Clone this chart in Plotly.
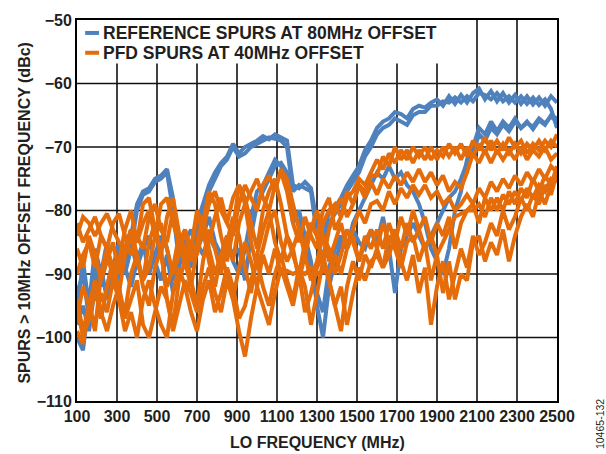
import plotly.graph_objects as go

# LO sweep points (MHz)
lo_mhz = list(range(100, 2501, 30))

# Reference spurs at 80 MHz offset (dBc), one list per measured part
ref_spurs_1 = [
    -96, -88, -95, -86, -90, -85, -91, -86, -88, -84,
    -79, -77, -76.5, -75, -74.5, -73.5, -78, -86, -84, -87,
    -82, -79, -76, -74, -72.5, -71.5, -69.5, -71, -70, -69.5,
    -69, -68.3, -68.8, -68, -68.5, -69, -76, -76.5, -75.5, -76.5,
    -82, -85, -80, -79.5, -78, -76, -74.5, -73, -70.5, -69,
    -67, -66, -65.5, -64.5, -64.8, -65.5, -64, -63.5, -63.8, -63,
    -62.5, -63.5, -62, -63.2, -61.8, -63, -61.5, -60.8, -62.5, -61.2,
    -62.8, -61.5, -63, -61.8, -63.2, -62, -63.3, -62.2, -63.5, -62,
    -63,
]
ref_spurs_2 = [
    -93, -90, -97, -88, -92, -87, -89, -85, -90, -86,
    -80, -77.5, -77, -75.5, -75, -74, -80, -88, -85, -89,
    -84, -80, -77, -75, -73, -72, -70, -71.5, -71, -70,
    -69.5, -69, -68.5, -68.7, -69, -70, -77, -76, -76.5, -77,
    -84, -88, -82, -80.5, -79, -77, -75.5, -74, -71.5, -70,
    -68, -67, -66.5, -65.5, -66, -66.5, -65, -64.5, -64.5, -63.5,
    -63.5, -62.8, -63, -62.2, -63, -62, -62.8, -61.5, -61.8, -62.5,
    -61.5, -62.8, -62, -63, -62, -63.2, -62.2, -63.4, -62.5, -64,
    -67,
]
ref_spurs_3 = [
    -100, -102, -94, -90, -97, -92, -88, -91, -87, -85,
    -89, -86, -84, -88, -91, -87, -93, -89, -85, -83,
    -86, -84, -81, -85, -87, -84, -88, -90, -86, -81,
    -77, -76, -74, -72, -73, -75, -82, -80, -84, -88,
    -95, -100, -92, -88, -85, -86, -82, -80, -78, -76,
    -74, -75, -73, -75, -74, -76, -77, -79, -82, -86,
    -88, -90, -86, -80, -77, -72, -70, -67, -68, -66,
    -67.5, -66, -67, -65.5, -67, -66, -67.2, -65.8, -66.5, -65,
    -65.5,
]
ref_spurs_4 = [
    -98, -95, -99, -92, -89, -94, -90, -86, -89, -92,
    -88, -85, -90, -87, -84, -86, -91, -88, -86, -89,
    -85, -87, -84, -86, -88, -85, -87, -86, -91, -84,
    -79, -77, -75, -73, -72.5, -74, -80, -82, -86, -90,
    -93, -96, -89, -86, -84, -86, -83, -85, -86, -83,
    -85, -81, -86, -93, -86, -84, -82, -84, -86, -84,
    -82, -80, -78, -77, -75, -72.5, -71, -68, -69, -67,
    -68, -66.5, -67.5, -66, -67, -66.2, -66.8, -65.5, -66.3, -65.2,
    -66,
]

# PFD spurs at 40 MHz offset (dBc)
pfd_spurs_1 = [
    -84, -81, -82, -84, -82, -80.5, -83, -85, -86, -83,
    -85, -82, -80, -84, -79, -78, -82, -85, -83, -86,
    -81, -83, -79, -77, -80, -82, -78, -76, -79, -77,
    -75, -78, -80, -76, -74, -77, -82, -85, -81, -84,
    -86, -82, -80, -79, -81, -78, -77, -75, -76, -74,
    -72, -73.5, -71, -72.5, -70.5, -72, -70, -71.5, -70, -72,
    -70.5, -71.5, -69.5, -71, -69.5, -71.5, -69, -70.5, -68.5, -70.5,
    -69, -70.5, -68.5, -70, -69, -71, -69.5, -70.5, -69, -70,
    -68,
]
pfd_spurs_2 = [
    -82, -85, -83, -81, -84, -86, -82, -80.5, -84, -87,
    -84, -86, -81, -79, -83, -85, -80, -84, -88, -85,
    -87, -83, -85, -81, -78, -82, -84, -79, -76, -78,
    -80, -76, -74.5, -77, -73.5, -75, -79, -83, -86, -82,
    -84, -88, -83, -80, -78, -81, -79, -76, -77, -74.5,
    -74.5, -71.5, -73, -70, -72, -70.5, -72.5, -70.5, -72, -70,
    -72, -70, -71.5, -70, -72, -70, -71.5, -69.5, -71, -69,
    -71, -69.5, -71, -69.5, -71, -69.5, -70.5, -69, -70.5, -69,
    -70,
]
pfd_spurs_3 = [
    -90, -87, -85, -89, -84, -86, -91, -88, -83, -80,
    -85, -79, -78, -83, -87, -81, -78, -84, -89, -86,
    -80, -82, -77, -79, -84, -88, -83, -76, -78, -82,
    -86, -80, -77, -75, -79, -84, -87, -90, -85, -82,
    -84, -80, -78, -83, -81, -77, -79, -76, -78, -75.5,
    -77.5, -75, -76.5, -74.5, -76, -74, -75.5, -73.5, -75.5, -74,
    -76, -74.5, -77, -75.5, -76.5, -74, -71, -72.5, -70.5, -72.5,
    -70.5, -72, -70.5, -72, -70, -72, -70.5, -71.5, -70, -72,
    -71,
]
pfd_spurs_4 = [
    -97, -92, -95, -99, -90, -86, -89, -93, -87, -84,
    -88, -91, -85, -82, -87, -92, -89, -84, -86, -91,
    -95, -88, -83, -86, -90, -85, -81, -84, -89, -93,
    -87, -83, -80, -85, -88, -84, -86, -91, -87, -83,
    -80, -84, -88, -85, -82, -86, -83, -80, -82, -79,
    -78.5, -80, -77, -79, -76.5, -78, -76, -77.5, -76, -78,
    -77, -79, -78, -80, -79, -77.5, -79, -76.5, -78, -75.5,
    -77, -75, -76.5, -74.5, -76, -74, -75.5, -73.5, -75, -73,
    -74,
]
pfd_spurs_5 = [
    -94, -99, -95, -91, -97, -92, -88, -93, -96, -90,
    -87, -92, -95, -89, -86, -94, -98, -91, -88, -92,
    -86, -83, -88, -92, -87, -90, -94, -89, -85, -88,
    -92, -87, -90, -86, -90, -89.5, -90, -89.5, -90, -89,
    -90, -89.5, -90, -87, -90, -86, -84, -88, -85, -83,
    -86, -82, -85, -83, -86, -82, -85, -83, -86, -84,
    -87, -85, -83, -81, -80.5, -80, -80, -79, -81, -78,
    -80, -77.5, -79, -77, -78.5, -76.5, -78, -76, -77, -75,
    -75.5,
]
pfd_spurs_6 = [
    -99, -101, -95, -98, -93, -96, -91, -94, -99, -96,
    -100, -94, -91, -95, -98, -100, -93, -89, -92, -96,
    -99, -94, -91, -96, -93, -89, -92, -97, -95, -91,
    -88, -92, -95, -90, -87, -91, -94, -89, -92, -98,
    -93, -88, -91, -95, -99, -92, -88, -91, -87, -89,
    -86, -89, -87, -84, -88, -91, -87, -93, -89, -98,
    -92, -88, -94, -90, -86, -89, -84, -87, -85, -82,
    -84, -80, -83, -81, -78, -80, -77.5, -79, -76, -77.5,
    -74,
]
pfd_spurs_7 = [
    -95, -100, -97, -93, -96, -99, -95, -92, -97, -94,
    -91, -98, -100, -96, -92, -94, -99, -95, -91, -93,
    -96, -92, -89, -93, -96, -91, -94, -99, -103, -97,
    -92, -95, -98, -93, -89, -92, -95, -90, -96, -93,
    -89, -87, -91, -95, -92, -98, -93, -89, -91, -88,
    -87, -89, -84, -86, -89, -85, -84, -88, -85, -91,
    -87, -93, -88, -94, -90, -91, -85, -84, -88, -85,
    -87, -83, -88, -84, -81, -79, -81, -77, -79, -76,
    -73,
]
pfd_spurs_8 = [
    -86, -89, -84, -87, -91, -88, -85, -90, -86, -83,
    -87, -91, -89, -84, -82, -86, -90, -87, -83, -88,
    -85, -81, -86, -90, -87, -84, -88, -82, -79, -85,
    -89, -86, -82, -80, -85, -88, -86, -83, -87, -91,
    -88, -84, -86, -90, -87, -83, -85, -88, -84, -86,
    -83, -86, -82, -85, -81, -84, -80, -83, -81, -85,
    -82, -84, -81, -86, -82, -80, -79, -82, -78, -80,
    -78, -80, -77, -79, -76.5, -78, -75, -77, -74.5, -76,
    -74.5,
]

x_tick_vals = list(range(100, 2501, 200))
y_tick_vals = list(range(-110, -49, 10))

ref_series = [ref_spurs_1, ref_spurs_2, ref_spurs_3, ref_spurs_4]
pfd_series = [pfd_spurs_1, pfd_spurs_2, pfd_spurs_3, pfd_spurs_4,
              pfd_spurs_5, pfd_spurs_6, pfd_spurs_7, pfd_spurs_8]

BLUE = "#4F81BD"
ORANGE = "#E46C0A"
TEXT = "#231F20"
GRID = "#111111"
FONT = "Liberation Sans, Arial, sans-serif"

fig = go.Figure()
for ys in ref_series:
    fig.add_trace(go.Scatter(x=lo_mhz, y=ys, mode="lines",
                             line=dict(color=BLUE, width=4),
                             hoverinfo="skip", showlegend=False))
for ys in pfd_series:
    fig.add_trace(go.Scatter(x=lo_mhz, y=ys, mode="lines",
                             line=dict(color=ORANGE, width=4),
                             hoverinfo="skip", showlegend=False))

axis_common = dict(
    showgrid=False,
    showline=True, mirror=True, linecolor="#000000", linewidth=2,
    ticks="", zeroline=False,
    tickfont=dict(family=FONT, size=16, color=TEXT, weight="bold"),
)
fig.update_xaxes(range=[100, 2500], tickvals=x_tick_vals, **axis_common)
fig.update_yaxes(range=[-110, -50], tickvals=y_tick_vals, **axis_common)

# solid dark grid, drawn between the background and the traces
for xv in x_tick_vals[1:-1]:
    fig.add_shape(type="line", xref="x", yref="paper", x0=xv, x1=xv, y0=0, y1=1,
                  line=dict(color=GRID, width=1.6), layer="between")
for yv in y_tick_vals[1:-1]:
    fig.add_shape(type="line", xref="paper", yref="y", x0=0, x1=1, y0=yv, y1=yv,
                  line=dict(color=GRID, width=1.6), layer="between")

# white panel behind the legend lines
fig.add_shape(type="rect", xref="paper", yref="paper",
              x0=0.0, x1=0.80, y0=0.886, y1=1.0,
              fillcolor="white", line=dict(width=0), layer="between")

legend_items = [("REFERENCE SPURS AT 80MHz OFFSET", BLUE, 0.966),
                ("PFD SPURS AT 40MHz OFFSET", ORANGE, 0.914)]
for label, color, ypos in legend_items:
    fig.add_shape(type="line", xref="paper", yref="paper",
                  x0=0.017, x1=0.046, y0=ypos, y1=ypos,
                  line=dict(color=color, width=4))
    fig.add_annotation(xref="paper", yref="paper", x=0.05, y=ypos,
                       xanchor="left", yanchor="middle", showarrow=False,
                       text=label,
                       font=dict(family=FONT, size=17.5, color=TEXT, weight="bold"))

# axis titles
fig.add_annotation(xref="paper", yref="paper", x=0.5, y=-0.11,
                   xanchor="center", yanchor="middle", showarrow=False,
                   text="LO FREQUENCY (MHz)",
                   font=dict(family=FONT, size=16, color=TEXT, weight="bold"))
fig.add_annotation(xref="paper", yref="paper", x=-0.11, y=0.495,
                   xanchor="center", yanchor="middle", showarrow=False,
                   textangle=-90,
                   text="SPURS > 10MHz OFFSET FREQUENCY (dBc)",
                   font=dict(family=FONT, size=16, color=TEXT, weight="bold"))

# figure number
fig.add_annotation(xref="paper", yref="paper", x=1.09, y=-0.06,
                   xanchor="center", yanchor="middle", showarrow=False,
                   textangle=-90, text="10465-132",
                   font=dict(family=FONT, size=10.5, color=TEXT))

fig.update_layout(
    width=606, height=454,
    margin=dict(l=77, r=49, t=16, b=53),
    plot_bgcolor="white", paper_bgcolor="white",
    showlegend=False,
    font=dict(family=FONT, color=TEXT),
)

fig.write_html("out.html")
